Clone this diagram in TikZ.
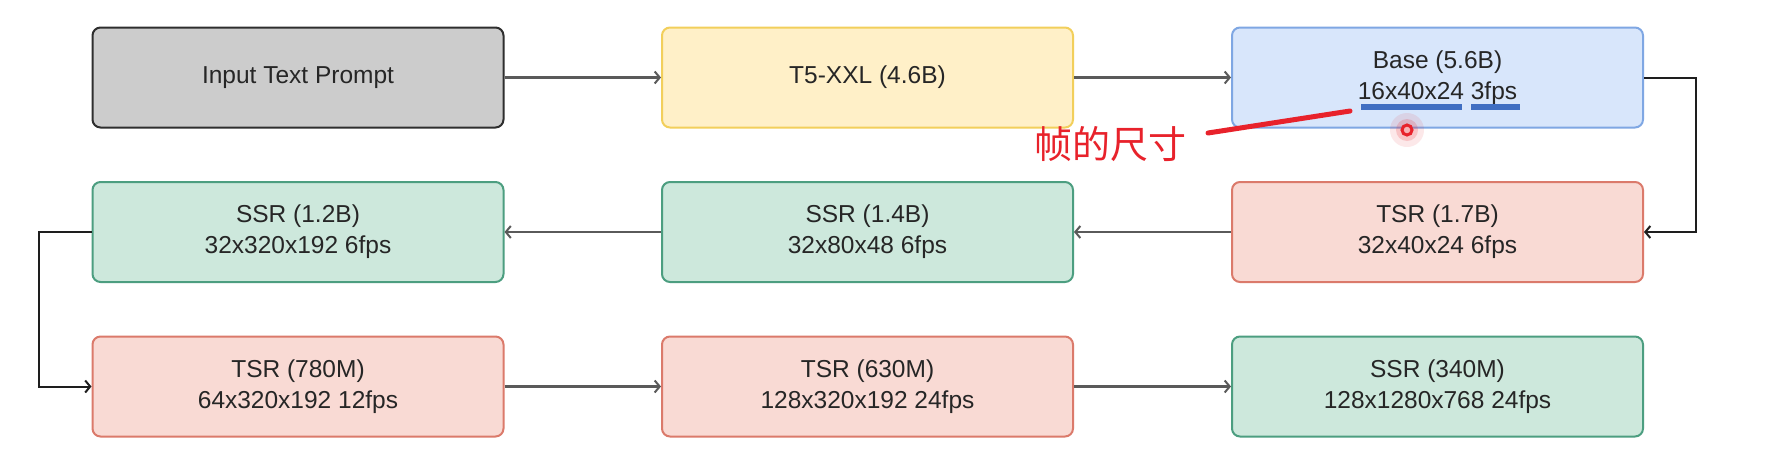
\documentclass[tikz,border=0pt]{standalone}
\usepackage{fontspec}
\setmainfont{Liberation Sans}
\newfontfamily\cjk{Noto Sans CJK SC}
\usetikzlibrary{arrows.meta}
\definecolor{txt}{HTML}{262626}
\definecolor{grayfill}{HTML}{CCCCCC}
\definecolor{graydraw}{HTML}{2E2E2E}
\definecolor{yelfill}{HTML}{FFF0C8}
\definecolor{yeldraw}{HTML}{F2CF5B}
\definecolor{bluefill}{HTML}{D8E6FB}
\definecolor{bluedraw}{HTML}{7FA7E3}
\definecolor{redfill}{HTML}{F9DAD4}
\definecolor{reddraw}{HTML}{DB7A6B}
\definecolor{grnfill}{HTML}{CDE8DC}
\definecolor{grndraw}{HTML}{4C9E80}
\definecolor{linecol}{HTML}{5A5A5A}
\definecolor{elbowcol}{HTML}{1E1E1E}
\definecolor{annred}{HTML}{E8222B}
\definecolor{ulblue}{HTML}{3F6EC2}
\tikzset{
  box/.style={rectangle, rounded corners=8pt, line width=2pt, minimum width=411pt, minimum height=100pt,
    align=center, text=txt, font=\fontsize{24.5}{31}\selectfont},
  graybox/.style={box, fill=grayfill, draw=graydraw},
  yelbox/.style={box, fill=yelfill, draw=yeldraw},
  bluebox/.style={box, fill=bluefill, draw=bluedraw},
  redbox/.style={box, fill=redfill, draw=reddraw},
  grnbox/.style={box, fill=grnfill, draw=grndraw},
  conn/.style={draw=linecol, line width=2.2pt, -{Straight Barb[length=5pt,width=12pt,line width=2pt]}},
  elbow/.style={draw=elbowcol, line width=2pt, -{Straight Barb[length=5pt,width=12pt,line width=2pt]}},
}
\begin{document}
\begin{tikzpicture}[x=1pt,y=-1pt]
\useasboundingbox (0,0) rectangle (1768,448);
\fill[white] (0,0) rectangle (1768,448);
% row 1
\node[graybox] (inp) at (298,77.5) {Input Text Prompt};
\node[yelbox] (t5) at (867.5,77.5) {T5-XXL (4.6B)};
\node[bluebox] (base) at (1437.5,77.5) {Base (5.6B)\\16x40x24 3fps};
% row 2
\node[redbox] (tsra) at (1437.5,232) {TSR (1.7B)\\32x40x24 6fps};
\node[grnbox] (ssra) at (867.5,232) {SSR (1.4B)\\32x80x48 6fps};
\node[grnbox] (ssrb) at (298,232) {SSR (1.2B)\\32x320x192 6fps};
% row 3
\node[redbox] (tsrb) at (298,386.5) {TSR (780M)\\64x320x192 12fps};
\node[redbox] (tsrc) at (867.5,386.5) {TSR (630M)\\128x320x192 24fps};
\node[grnbox] (ssrc) at (1437.5,386.5) {SSR (340M)\\128x1280x768 24fps};
% connectors
\draw[conn] (inp.east) -- (t5.west);
\draw[conn] (t5.east) -- (base.west);
\draw[elbow] (base.east) -- ++(52,0) |- (tsra.east);
\draw[conn] (tsra.west) -- (ssra.east);
\draw[conn] (ssra.west) -- (ssrb.east);
\draw[elbow] (ssrb.west) -- ++(-53,0) |- (tsrb.west);
\draw[conn] (tsrb.east) -- (tsrc.west);
\draw[conn] (tsrc.east) -- (ssrc.west);
% annotation
\fill[ulblue] (1361,104) rectangle (1462,109.5);
\fill[ulblue] (1471,104) rectangle (1520,109.5);
\node[text=annred, font=\cjk\fontsize{38}{40}\selectfont, inner sep=0pt] (ann) at (1110,144) {帧的尺寸};
\coordinate (annend) at (1350,111);
\draw[annred, line width=5pt, line cap=round] (1208,133) -- (annend);
\fill[annred, opacity=0.10] (1407,130) circle (17);
\fill[annred, opacity=0.18] (1407,130) circle (11);
\draw[annred, line width=3pt, fill=annred!35!white] (1407,130) circle (5);
\end{tikzpicture}
\end{document}
